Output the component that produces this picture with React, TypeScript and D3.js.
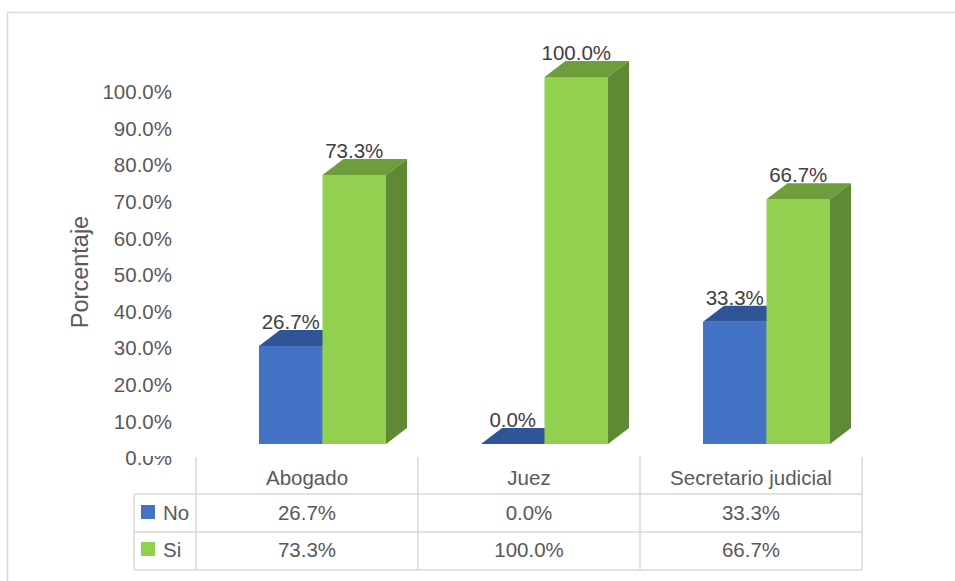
import React from "react";
import * as d3 from "d3";

const categories = ["Abogado", "Juez", "Secretario judicial"];
const seriesNames = ["No", "Si"];
const noValues = [26.7, 0.0, 33.3];
const siValues = [73.3, 100.0, 66.7];
const yTicks = [0, 10, 20, 30, 40, 50, 60, 70, 80, 90, 100];

const colors: Record<string, { front: string; top: string; side: string }> = {
  No: { front: "#4472c4", top: "#2f5597", side: "#2a4d8a" },
  Si: { front: "#92d050", top: "#6e9d3c", side: "#5f8a33" },
};

const FONT = "'Liberation Sans', Arial, sans-serif";

export default function App() {
  const x0 = d3.scaleBand<string>().domain(categories).range([196, 862]).padding(0);
  const x1 = d3.scaleBand<string>().domain(seriesNames).range([63, 63 + 127]).padding(0);
  const yBar = d3.scaleLinear().domain([0, 100]).range([444, 77]);
  const yAxis = d3.scaleLinear().domain([0, 100]).range([458, 92]);
  const dx = 21;
  const dy = -16;
  const valuesBySeries: Record<string, number[]> = { No: noValues, Si: siValues };
  const fmt = (v: number) => v.toFixed(1) + "%";
  const grid = "#d9d9d9";

  const bars: React.ReactNode[] = [];
  const labels: React.ReactNode[] = [];
  categories.forEach((c, ci) => {
    seriesNames.forEach((s) => {
      const v = valuesBySeries[s][ci];
      const x = (x0(c) as number) + (x1(s) as number);
      const w = x1.bandwidth();
      const yt = yBar(v);
      const yb = yBar(0);
      const col = colors[s];
      const key = c + s;
      bars.push(
        <g key={key}>
          {yb - yt > 0 && <rect x={x} y={yt} width={w} height={yb - yt} fill={col.front} />}
          <polygon
            points={`${x},${yt} ${x + w},${yt} ${x + w + dx},${yt + dy} ${x + dx},${yt + dy}`}
            fill={col.top}
          />
          <polygon
            points={`${x + w},${yt} ${x + w + dx},${yt + dy} ${x + w + dx},${yb + dy} ${x + w},${yb}`}
            fill={col.side}
          />
        </g>
      );
      labels.push(
        <text
          key={"l" + key}
          x={x + w / 2}
          y={yt + dy - 1}
          textAnchor="middle"
          fontSize={20.5}
          fill="#404040"
        >
          {fmt(v)}
        </text>
      );
    });
  });

  const tableLeft = 134;
  const colX = x0.domain().map((c) => x0(c) as number);
  const tableRight = 862;
  const rowLines = [494, 532, 570];
  const rowBaselines = [520, 557];

  return (
    <svg
      width={955}
      height={581}
      style={{ position: "absolute", left: 0, top: 0, fontFamily: FONT }}
    >
      <rect x={0} y={0} width={955} height={581} fill="#fff" />
      <rect x={7.5} y={12.5} width={970} height={600} fill="none" stroke={grid} strokeWidth={1.5} />

      {/* Axis title */}
      <text
        transform={`translate(88,272) rotate(-90)`}
        textAnchor="middle"
        fontSize={23.5}
        fill="#595959"
      >
        Porcentaje
      </text>

      {/* Y tick labels */}
      {yTicks.map((t) => (
        <text key={t} x={172} y={yAxis(t)} dy="0.35em" textAnchor="end" fontSize={20.5} fill="#595959">
          {fmt(t)}
        </text>
      ))}
      <rect x={139.5} y={440} width={40} height={16} fill="#fff" />

      {bars}
      {labels}

      {/* Data table */}
      {categories.map((c) => (
        <text
          key={"h" + c}
          x={(x0(c) as number) + x0.bandwidth() / 2}
          y={485}
          textAnchor="middle"
          fontSize={20.5}
          fill="#595959"
        >
          {c}
        </text>
      ))}
      {rowLines.map((y) => (
        <line key={"r" + y} x1={tableLeft} x2={tableRight} y1={y} y2={y} stroke={grid} strokeWidth={1.5} />
      ))}
      <line x1={tableLeft} x2={tableLeft} y1={494} y2={570} stroke={grid} strokeWidth={1.5} />
      {[...colX, tableRight].map((x) => (
        <line key={"c" + x} x1={x} x2={x} y1={457} y2={570} stroke={grid} strokeWidth={1.5} />
      ))}
      {seriesNames.map((s, si) => (
        <g key={"leg" + s}>
          <rect x={141} y={rowBaselines[si] - 15} width={14} height={14} fill={colors[s].front} />
          <text x={163} y={rowBaselines[si]} fontSize={20.5} fill="#595959">
            {s}
          </text>
          {categories.map((c, ci) => (
            <text
              key={s + c}
              x={(x0(c) as number) + x0.bandwidth() / 2}
              y={rowBaselines[si]}
              textAnchor="middle"
              fontSize={20.5}
              fill="#595959"
            >
              {fmt(valuesBySeries[s][ci])}
            </text>
          ))}
        </g>
      ))}
    </svg>
  );
}
